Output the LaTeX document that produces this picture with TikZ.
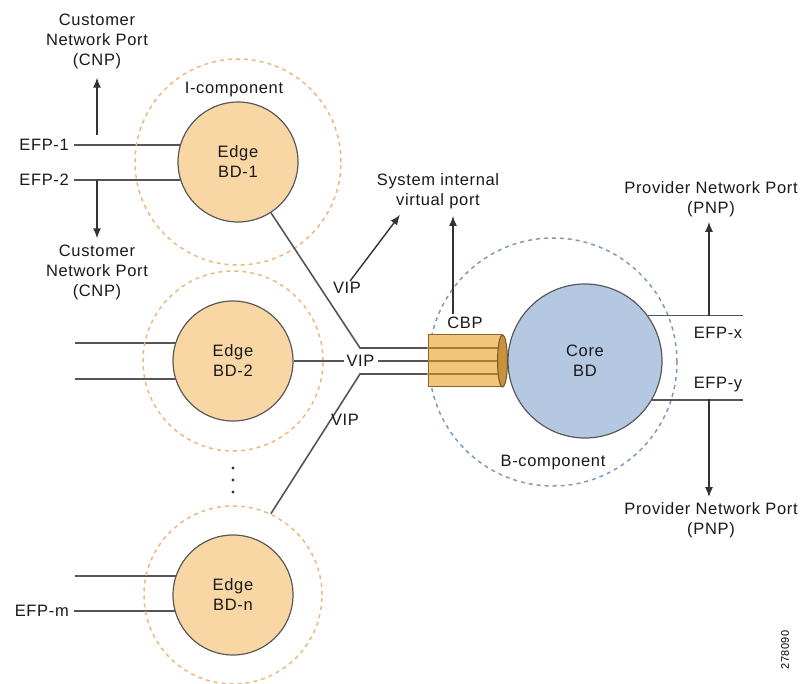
\documentclass[tikz,border=0pt]{standalone}
\usepackage{fontspec}
\setmainfont{Liberation Sans}[LetterSpace=4]
\usetikzlibrary{positioning,calc,arrows.meta,backgrounds,shapes.geometric}
\definecolor{edgeFill}{RGB}{249,215,165}
\definecolor{coreFill}{RGB}{181,200,226}
\definecolor{iDash}{RGB}{236,185,125}
\definecolor{bDash}{RGB}{130,152,190}
\definecolor{cylFill}{RGB}{242,198,122}
\definecolor{cylEnd}{RGB}{200,145,60}
\definecolor{wireGray}{RGB}{85,85,85}
\tikzset{
	lbl/.style={font=\fontsize{16.5}{20}\selectfont, inner sep=1pt, align=center, text=black!90},
	bdnode/.style={circle, draw=black!65, line width=1.2pt, fill=edgeFill, lbl},
	comp/.style={circle, draw=iDash, line width=1.5pt, dash pattern=on 4pt off 4pt},
	wire/.style={draw=wireGray, line width=1.6pt},
	arr/.style={draw=black!80, line width=1.4pt, -{Latex[length=10pt,width=8pt]}},
}
\newcommand{\edgeNode}[4]{\node[comp, minimum size=#4] (c#1) at (#2) {};
	\node[bdnode, minimum size=120] (#1) at (#2) {Edge\\#3};}

\begin{document}
\begin{tikzpicture}[x=1pt, y=-1pt]
\useasboundingbox (0,0) rectangle (806,684);
\edgeNode{bd1}{238,162}{BD-1}{206}
\edgeNode{bd2}{233,361}{BD-2}{180}
\edgeNode{bdn}{233,595}{BD-n}{178}
\node[lbl] (icomp) at (234,90) {I-component};
\foreach \y in {468,480,492} \fill[black!80] (233,\y) circle (1.7);

% customer side
\node[lbl, anchor=east] (efp1) at (70,145) {EFP-1};
\node[lbl, anchor=east] (efp2) at (70,180) {EFP-2};
\node[lbl, anchor=east] (efpm) at (70,611) {EFP-m};
\coordinate (l2a) at (75,343); \coordinate (l2b) at (75,379);
\coordinate (lna) at (75,576);
\begin{scope}[on background layer]
	\draw[wire] (efp1.east) ++(4,0) -- (efp1.east -| bd1);
	\draw[wire] (efp2.east) ++(4,0) -- (efp2.east -| bd1);
	\draw[wire] (l2a) -- (l2a -| bd2); \draw[wire] (l2b) -- (l2b -| bd2);
	\draw[wire] (lna) -- (lna -| bdn); \draw[wire] (efpm.east) ++(4,0) -- (efpm.east -| bdn);
	\node[comp, draw=bDash, minimum size=248] (bcomp) at (553,362) {};
\end{scope}
\node[lbl] (cnp1) at (97,41) {Customer\\Network Port\\(CNP)};
\node[lbl] (cnp2) at (97,272) {Customer\\Network Port\\(CNP)};
\coordinate (cu) at (97,135); \coordinate (cd) at (97,180);
\draw[arr] (cu) -- ($(cu |- cnp1.south)+(0,8)$);
\draw[arr] (cd) -- ($(cd |- cnp2.north)+(0,-5)$);

% B-component
\node[draw=cylEnd!70!black, fill=cylFill, line width=1pt, minimum width=74, minimum height=52, inner sep=0] (cyl) at (465,361) {};
\foreach \dy in {-13,0,13}
	\draw[line width=1.2pt, draw=cylEnd!85!black] ($(cyl.west)+(0,\dy)$) -- ($(cyl.east)+(-4,\dy)$);
\node[ellipse, draw=cylEnd!60!black, fill=cylEnd, line width=1pt, minimum width=10, minimum height=52, inner sep=0] (cylend) at (cyl.east) {};
\node[circle, draw=black!65, line width=1.2pt, fill=coreFill, minimum size=154, lbl] (core) at (585,361) {Core\\BD};
\node[lbl] (bclbl) at (553,463) {B-component};
\node[lbl] (cbp) at (465,323) {CBP};
\node[lbl] (sip) at (438,191) {System internal\\virtual port};

\coordinate (ja) at (360,348); \coordinate (jc) at (360,374);
\draw[wire] (bd1.-57) -- (ja) -- (ja -| cyl.west);
\draw[wire] (cbdn.65) -- (jc) -- (jc -| cyl.west);
\draw[wire] (bd2.east) -- (bd2.east -| cyl.west) node[lbl, pos=0.5, fill=white, inner sep=3pt] (vip2) {VIP};
\node[lbl] (vip1) at (347,288) {VIP};
\node[lbl] (vip3) at (345,420) {VIP};
\draw[arr] ($(vip1.north)+(3,0)$) -- ($(sip.south)+(-38,5)$);
\coordinate (cbpa) at ($(cbp.north)+(-12,-2)$);
\draw[arr] (cbpa) -- ($(cbpa |- sip.south)+(0,6)$);

% provider side
\node[lbl] (efpx) at (718,333) {EFP-x};
\node[lbl] (efpy) at (718,385) {EFP-y};
\coordinate (ex) at (743,316); \coordinate (ey) at (743,399);
\draw[wire] (core.36) -- (core.36 -| ex);
\draw[wire] (core.-30) -- (core.-30 -| ey);
\node[lbl] (pnp1) at (711,199) {Provider Network Port\\(PNP)};
\node[lbl] (pnp2) at (711,520) {Provider Network Port\\(PNP)};
\coordinate (px) at (709,316); \coordinate (py) at (709,399);
\draw[arr] (px) -- ($(px |- pnp1.south)+(0,4)$);
\draw[arr] (py) -- ($(py |- pnp2.north)+(0,-4)$);
\node[font=\fontsize{11}{13}\selectfont, rotate=90] (figid) at (785,650) {278090};
\end{tikzpicture}
\end{document}
